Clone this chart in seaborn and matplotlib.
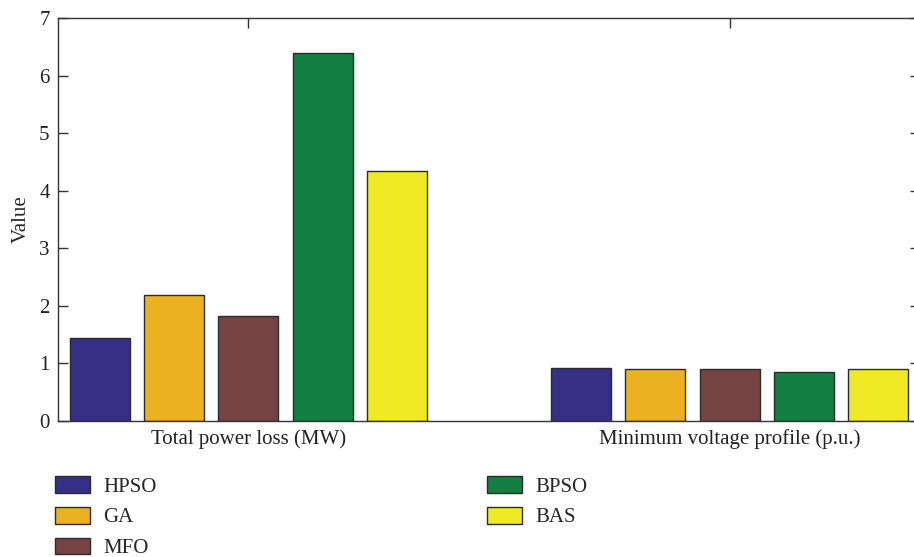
import matplotlib
matplotlib.use("Agg")
import matplotlib.pyplot as plt
import seaborn as sns
import pandas as pd
from matplotlib.patches import Patch

metrics = ["Total power loss (MW)", "Minimum voltage profile (p.u.)"]
methods = ["HPSO", "GA", "MFO", "BPSO", "BAS"]
hpso = [1.44, 0.925]
ga = [2.19, 0.90]
mfo = [1.82, 0.91]
bpso = [6.39, 0.85]
bas = [4.35, 0.90]
colors = ["#352F86", "#EBB120", "#744342", "#137F40", "#EFEA23"]
yticks = [0, 1, 2, 3, 4, 5, 6, 7]

series = dict(zip(methods, [hpso, ga, mfo, bpso, bas]))
df = pd.DataFrame(
    [(m, meth, v) for meth in methods for m, v in zip(metrics, series[meth])],
    columns=["Metric", "Method", "Value"],
)

sns.set_theme(style="white")
plt.rcParams["font.family"] = ["Liberation Serif", "DejaVu Serif"]

W, H = 914, 557
fig = plt.figure(figsize=(W / 100, H / 100), dpi=100)
ax = fig.add_axes([58 / W, 1 - 421 / H, (920 - 58) / W, (421 - 18) / H])

sns.barplot(
    data=df, x="Metric", y="Value", hue="Method", hue_order=methods,
    palette=colors, width=0.77, gap=0.19, edgecolor="#2b2b2b",
    linewidth=1.0, saturation=1, legend=False, ax=ax,
)

ax.set_xlim(-0.396, 1.396)
ax.set_ylim(0, 7)
ax.set_yticks(yticks)
ax.set_yticklabels([str(t) for t in yticks])
ax.set_xlabel("")
ax.set_ylabel("Value", fontsize=15, labelpad=6)
ax.set_axisbelow(True)
ax.tick_params(axis="both", which="both", direction="in", length=7, width=1,
               color="#333333", labelsize=15, labelcolor="#222222",
               top=True, right=True, bottom=True, left=True)
ax.tick_params(axis="x", pad=6)
ax.tick_params(axis="y", pad=6)
for s in ax.spines.values():
    s.set_visible(True)
    s.set_color("#333333")
    s.set_linewidth(1.0)

handles = [Patch(facecolor=c, edgecolor="#2b2b2b", linewidth=1.0) for c in colors]
legend_kw = dict(frameon=False, fontsize=15, handlelength=1.68, handleheight=0.85,
                 handletextpad=0.62, labelspacing=0.5, borderaxespad=0,
                 borderpad=0, loc="upper left")
fig.legend(handles[:3], methods[:3], bbox_to_anchor=(55 / W, 1 - 476 / H), **legend_kw)
fig.legend(handles[3:], methods[3:], bbox_to_anchor=(487 / W, 1 - 476 / H), **legend_kw)

fig.savefig("out.png", dpi=100)
